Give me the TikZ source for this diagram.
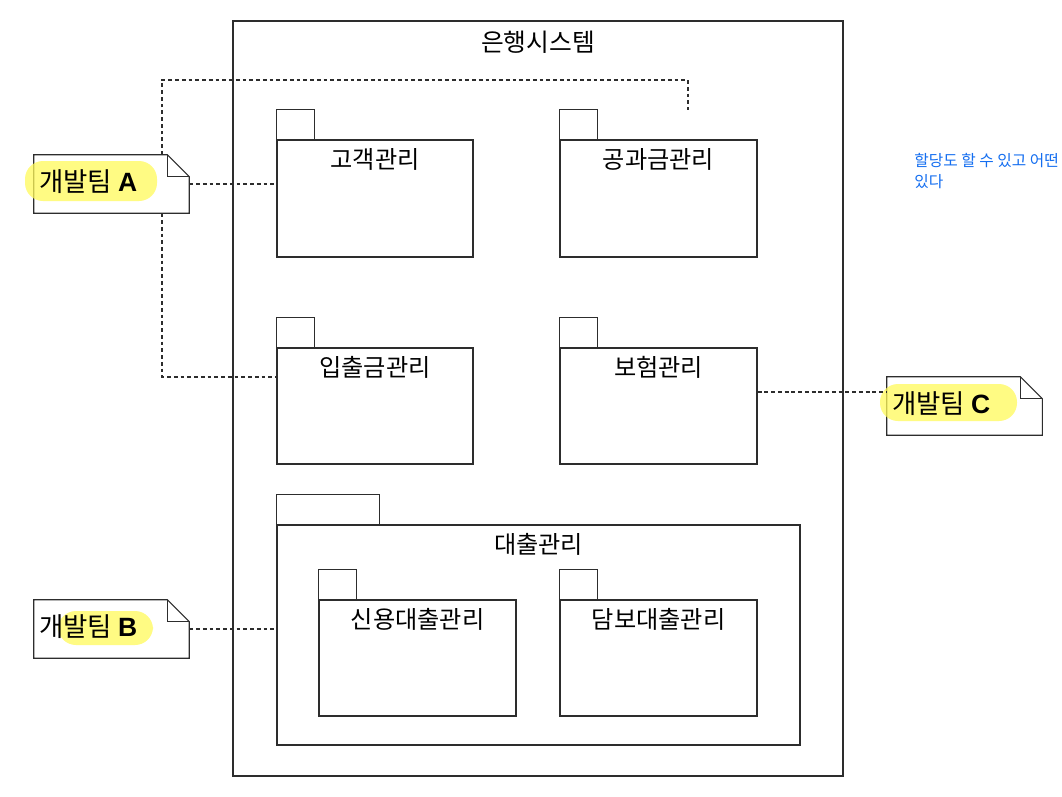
\documentclass[tikz,border=0pt]{standalone}
\usepackage{fontspec}
\newfontfamily\kr{Noto Sans CJK KR}
\newfontfamily\lat{Liberation Sans}
\usetikzlibrary{calc,positioning,fit}
\definecolor{hlyellow}{RGB}{255,250,90}
\definecolor{noteblue}{RGB}{20,110,240}
\definecolor{linegray}{RGB}{45,45,45}

\begin{document}
\begin{tikzpicture}[x=0.025cm, y=-0.025cm,
    pkg/.style={draw=linegray, line width=0.8pt, inner sep=0pt},
    pkglabel/.style={font=\kr\fontsize{17.2}{20}\selectfont, inner sep=0pt},
    notebox/.style={minimum width=3.875cm, minimum height=1.45cm, inner sep=0pt},
    notetext/.style={font=\kr\fontsize{18.8}{22}\selectfont, anchor=west, inner sep=0pt},
    highlight/.style={fill=hlyellow, opacity=0.75, rounded corners=0.45cm},
    dep/.style={draw=linegray, line width=0.8pt, dash pattern=on 2.8pt off 2pt}]
\useasboundingbox (0,0) rectangle (1062,796);

% --- System boundary ---
\node[pkg, fit={(233,21) (843,776)}] (Bank) {};
\node[pkglabel, font=\kr\fontsize{17.6}{20}\selectfont] at ([yshift=-0.55cm]Bank.north) {은행시스템};

% --- Packages ---
\node[pkg, fit={(277,140) (473,257)}] (Gogaek) {};
\node[pkg, fit={(560,140) (757,257)}] (Gonggwa) {};
\node[pkg, fit={(277,348) (473,464)}] (Ipchul) {};
\node[pkg, fit={(560,348) (757,464)}] (Boheom) {};
\node[pkg, fit={(277,525) (800,745)}] (Daechul) {};
\node[pkg, fit={(319,600) (516,716)}] (Sinyong) {};
\node[pkg, fit={(560,600) (757,716)}] (Dambo) {};
% Tabs
\foreach \p in {Gogaek,Gonggwa,Ipchul,Boheom,Sinyong,Dambo} {
    \draw[pkg] (\p.north west) rectangle ++(38,-30);
}
\draw[pkg] (Daechul.north west) rectangle ++(103,-30);
% Package names
\node[pkglabel] at ([yshift=-0.5cm]Gogaek.north) {고객관리};
\node[pkglabel] at ([yshift=-0.5cm]Gonggwa.north) {공과금관리};
\node[pkglabel] at ([yshift=-0.5cm]Ipchul.north) {입출금관리};
\node[pkglabel] at ([yshift=-0.5cm]Boheom.north) {보험관리};
\node[pkglabel] at ([yshift=-0.5cm]Daechul.north) {대출관리};
\node[pkglabel] at ([yshift=-0.5cm]Sinyong.north) {신용대출관리};
\node[pkglabel] at ([yshift=-0.5cm]Dambo.north) {담보대출관리};

% --- Notes (team assignment) ---
\foreach \t/\x/\y in {A/34/155, B/34/600, C/887/377} {
    \node[notebox] (Note\t) at (\x+77.5,\y+29) {};
    \draw[draw=linegray, line width=0.8pt, fill=white] (Note\t.north west) -- ([xshift=-0.55cm]Note\t.north east)
        -- ([yshift=-0.55cm]Note\t.north east) -- (Note\t.south east) -- (Note\t.south west) -- cycle;
    \draw[draw=linegray, line width=0.8pt] ([xshift=-0.55cm]Note\t.north east) |- ([yshift=-0.55cm]Note\t.north east);
}
% Highlighter marks
\fill[highlight] (25,161) rectangle (157,201);
\fill[highlight] (58,611) rectangle (153,645);
\fill[highlight] (880,384) rectangle (1017,421);
% Note texts
\node[notetext] (TextA) at (39,182) {개발팀 {\lat\bfseries A}};
\node[notetext] (TextB) at (39,627) {개발팀 {\lat\bfseries B}};
\node[notetext] (TextC) at (892,404) {개발팀 {\lat\bfseries C}};

% --- Dependencies ---
\coordinate (jA) at (162,80);
\coordinate (jB) at (688,110);
\coordinate (jC) at (162,377);
\coordinate (jD) at (887,392);
\draw[dep] (NoteA.east) -- (Gogaek.west |- NoteA.east);
\draw[dep] (NoteA.north -| jA) -- (jA) -| (jB);
\draw[dep] (NoteA.south -| jA) -- (jC) -- (Ipchul.west |- jC);
\draw[dep] (NoteB.east) -- (Daechul.west |- NoteB.east);
\draw[dep] (Boheom.east |- jD) -- (NoteC.west |- jD);

% Side remark
\node[font=\kr\fontsize{11.2}{14.9}\selectfont, text=noteblue, align=left, anchor=north west, inner sep=0pt] (Remark) at (914,153)
    {할당도 할 수 있고 어떤\\있다};
\end{tikzpicture}
\end{document}
